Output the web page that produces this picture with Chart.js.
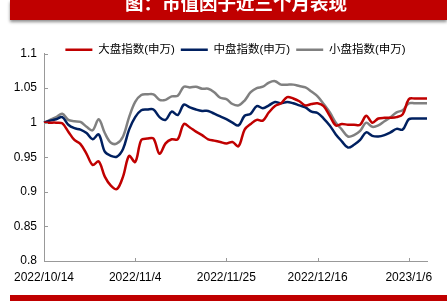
<!DOCTYPE html>
<html>
<head>
<meta charset="utf-8">
<script src="https://cdn.jsdelivr.net/npm/chart.js@4"></script>
<style>
    body { margin: 0; background: #fff; }
    #wrap { position: relative; width: 447px; height: 301px; overflow: hidden; }
    #chart { position: absolute; left: 0; top: 0; }
    .banner { position: absolute; left: 10px; width: 437px; background: #c00000; }
    #top-banner { top: 0; height: 20px; box-shadow: 0 2px 3px rgba(0, 0, 0, 0.45); }
    #top-banner span {
        position: absolute; left: 115px; top: -7px;
        color: #fff; font: bold 18.5px "Noto Sans CJK SC", sans-serif; line-height: 18px;
        white-space: nowrap;
    }
    #bottom-banner { top: 295px; height: 6px; }
</style>
</head>
<body>
<div id="wrap">
    <canvas id="chart" width="447" height="301"></canvas>
    <div class="banner" id="top-banner"><span>图：市值因子近三个月表现</span></div>
    <div class="banner" id="bottom-banner"></div>
</div>
<script>
const dates = [
    "2022/10/14", "2022/10/17", "2022/10/18", "2022/10/19", "2022/10/20", "2022/10/21",
    "2022/10/24", "2022/10/25", "2022/10/26", "2022/10/27", "2022/10/28",
    "2022/10/31", "2022/11/1", "2022/11/2", "2022/11/3", "2022/11/4",
    "2022/11/7", "2022/11/8", "2022/11/9", "2022/11/10", "2022/11/11",
    "2022/11/14", "2022/11/15", "2022/11/16", "2022/11/17", "2022/11/18",
    "2022/11/21", "2022/11/22", "2022/11/23", "2022/11/24", "2022/11/25",
    "2022/11/28", "2022/11/29", "2022/11/30", "2022/12/1", "2022/12/2",
    "2022/12/5", "2022/12/6", "2022/12/7", "2022/12/8", "2022/12/9",
    "2022/12/12", "2022/12/13", "2022/12/14", "2022/12/15", "2022/12/16",
    "2022/12/19", "2022/12/20", "2022/12/21", "2022/12/22", "2022/12/23",
    "2022/12/26", "2022/12/27", "2022/12/28", "2022/12/29", "2022/12/30",
    "2023/1/2", "2023/1/3", "2023/1/4", "2023/1/5", "2023/1/6",
    "2023/1/9", "2023/1/10", "2023/1/11"
];
const shownDates = ["2022/10/14", "2022/11/4", "2022/11/25", "2022/12/16", "2023/1/6"];

const seriesNames = ["大盘指数(申万)", "中盘指数(申万)", "小盘指数(申万)"];
const seriesColors = ["#c00000", "#002060", "#808080"];

const largeCap = [
    1.000, 1.000, 1.000, 0.999, 0.987, 0.975, 0.969, 0.955, 0.939, 0.944,
    0.922, 0.909, 0.904, 0.922, 0.952, 0.943, 0.975, 0.977, 0.977, 0.955,
    0.970, 0.976, 0.976, 0.998, 0.993, 0.987, 0.982, 0.976, 0.974, 0.972,
    0.970, 0.972, 0.966, 0.990, 0.998, 1.004, 1.003, 1.015, 1.024, 1.028,
    1.037, 1.035, 1.031, 1.025, 1.027, 1.028, 1.024, 1.010, 0.996, 0.998,
    0.997, 0.997, 0.997, 1.010, 1.000, 1.006, 1.007, 1.007, 1.008, 1.012,
    1.034, 1.035, 1.035, 1.035
];
const midCap = [
    1.000, 1.003, 1.005, 1.008, 0.997, 0.992, 0.990, 0.985, 0.976, 0.983,
    0.958, 0.952, 0.951, 0.962, 0.990, 1.008, 1.018, 1.019, 1.019, 1.008,
    1.004, 1.016, 1.011, 1.026, 1.022, 1.019, 1.017, 1.017, 1.013, 1.009,
    1.005, 1.000, 0.996, 1.010, 1.013, 1.024, 1.021, 1.025, 1.030, 1.028,
    1.030, 1.028, 1.025, 1.022, 1.016, 1.014, 1.006, 0.996, 0.983, 0.973,
    0.964, 0.968, 0.975, 0.986, 0.981, 0.980, 0.982, 0.986, 0.991, 0.990,
    1.005, 1.006, 1.006, 1.006
];
const smallCap = [
    1.000, 1.004, 1.008, 1.013, 1.004, 1.002, 1.001, 0.994, 0.989, 1.005,
    0.985, 0.971, 0.970, 0.980, 1.008, 1.030, 1.040, 1.041, 1.041, 1.033,
    1.033, 1.038, 1.039, 1.052, 1.051, 1.052, 1.049, 1.049, 1.044, 1.036,
    1.034, 1.027, 1.025, 1.032, 1.044, 1.050, 1.052, 1.058, 1.060, 1.055,
    1.055, 1.055, 1.053, 1.051, 1.045, 1.038, 1.027, 1.015, 1.000, 0.990,
    0.980, 0.982, 0.988, 1.000, 0.994, 0.996, 1.002, 1.008, 1.015, 1.018,
    1.028, 1.028, 1.028, 1.028
];

const axisColor = "#999999";

// small tick marks drawn inward from the axes
const innerTicks = {
    id: "innerTicks",
    afterDraw(chart) {
        const ctx = chart.ctx;
        const x = chart.scales.x, y = chart.scales.y;
        ctx.save();
        ctx.strokeStyle = axisColor;
        ctx.lineWidth = 1;
        ctx.beginPath();
        y.ticks.forEach(t => {
            const py = Math.round(y.getPixelForValue(t.value)) + 0.5;
            ctx.moveTo(x.left, py);
            ctx.lineTo(x.left + 4, py);
        });
        dates.forEach((d, i) => {
            if (!shownDates.includes(d) || i === 0) return;
            const px = Math.round(x.getPixelForValue(i)) + 0.5;
            ctx.moveTo(px, y.bottom);
            ctx.lineTo(px, y.bottom - 3);
        });
        ctx.stroke();
        ctx.restore();
    }
};

// the legend sits close to the top of the plot, a little lower than the layout puts it
const legendNudge = {
    id: "legendNudge",
    afterLayout(chart) {
        chart.legend.top += 12;
        chart.legend.bottom += 12;
    }
};

new Chart(document.getElementById("chart"), {
    type: "line",
    data: {
        labels: dates,
        datasets: [largeCap, midCap, smallCap].map((values, i) => ({
            label: seriesNames[i],
            data: values,
            borderColor: seriesColors[i],
            backgroundColor: seriesColors[i],
            borderWidth: 2.5,
            pointRadius: 0,
            tension: 0.35,
            fill: false
        }))
    },
    options: {
        responsive: false,
        animation: false,
        layout: { padding: { top: 26, right: 20, bottom: 6, left: 0 } },
        plugins: {
            legend: {
                position: "top",
                fullSize: false,
                labels: {
                    usePointStyle: true,
                    pointStyle: "line",
                    pointStyleWidth: 27,
                    boxHeight: 11,
                    padding: 6,
                    color: "#000",
                    font: { family: "'Liberation Sans', 'Noto Sans CJK SC', sans-serif", size: 11.5 }
                }
            },
            tooltip: { enabled: false }
        },
        scales: {
            x: {
                type: "category",
                grid: { display: false, drawTicks: false },
                border: { color: axisColor },
                afterFit: scale => { scale.height = 34; },
                ticks: {
                    autoSkip: false,
                    maxRotation: 0,
                    padding: 9,
                    color: "#000",
                    font: { family: "'Liberation Sans', sans-serif", size: 12 },
                    callback: function (value) {
                        const d = this.getLabelForValue(value);
                        return shownDates.includes(d) ? d : "";
                    }
                }
            },
            y: {
                min: 0.8,
                max: 1.1,
                grid: { display: false, drawTicks: false },
                border: { color: axisColor },
                afterFit: scale => { scale.width = 44; },
                ticks: {
                    stepSize: 0.05,
                    padding: 7,
                    color: "#000",
                    font: { family: "'Liberation Sans', sans-serif", size: 12 },
                    callback: v => String(Number(v.toFixed(2)))
                }
            }
        }
    },
    plugins: [innerTicks, legendNudge]
});
</script>
</body>
</html>
